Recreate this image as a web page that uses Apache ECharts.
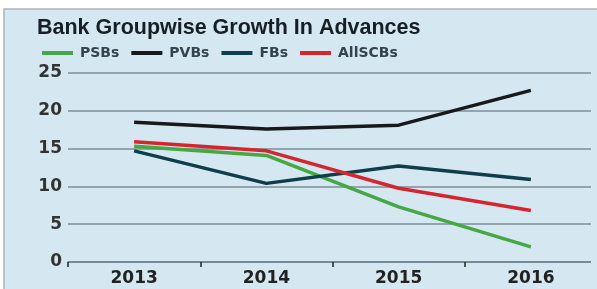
<!DOCTYPE html>
<html><head><meta charset="utf-8">
<script src="https://cdn.jsdelivr.net/npm/echarts@6/dist/echarts.min.js"></script>
<style>html,body{margin:0;padding:0;background:#fff}#c{width:597px;height:289px}</style>
</head><body><div id="c"></div>
<script>
const categories = ['2013', '2014', '2015', '2016'];
const psbs = [15.3, 14.1, 7.3, 2.0];
const pvbs = [18.5, 17.6, 18.1, 22.7];
const fbs = [14.7, 10.4, 12.7, 10.9];
const allscbs = [15.9, 14.7, 9.75, 6.8];
const yTicks = [0, 5, 10, 15, 20, 25];

const seriesDefs = [
  {name: 'PSBs', data: psbs, color: '#45a843'},
  {name: 'PVBs', data: pvbs, color: '#17191c'},
  {name: 'FBs', data: fbs, color: '#0f3e4b'},
  {name: 'AllSCBs', data: allscbs, color: '#d5252f'}
];
const panel = '#d5e7f1';
const chart = echarts.init(document.getElementById('c'));
chart.setOption({
  backgroundColor: '#ffffff',
  animation: false,
  graphic: [
    {type: 'rect', z: -10, shape: {x: 4, y: 9, width: 600, height: 290}, style: {fill: panel, stroke: '#a9b4bb', lineWidth: 1.5}},
    {type: 'rect', z: 100, shape: {x: 591, y: 10, width: 10, height: 290}, style: {fill: panel}}
  ],
  title: {
    text: 'Bank Groupwise Growth In Advances',
    left: 32, top: 12,
    textStyle: {fontFamily: 'Liberation Sans', fontWeight: 'bold', fontSize: 21.5, color: '#161f25'}
  },
  legend: {
    left: 37, top: 41,
    itemWidth: 31, itemHeight: 4, itemGap: 12,
    icon: 'rect',
    textStyle: {fontFamily: 'DejaVu Sans', fontWeight: 'bold', fontSize: 14, color: '#34434d', padding: [0, 0, 0, 2]},
    data: seriesDefs.map(s => s.name)
  },
  grid: {left: 68, right: -9, top: 73, height: 189, containLabel: false},
  xAxis: {
    type: 'category', data: categories, boundaryGap: true,
    axisLine: {lineStyle: {color: '#6f8190', width: 1.5}},
    axisTick: {show: true, length: 5, inside: false, lineStyle: {color: '#222', width: 1.5}},
    axisLabel: {margin: 8, fontFamily: 'DejaVu Sans', fontWeight: 'bold', fontSize: 17, color: '#222', offset: [-5,0]}
  },
  yAxis: {
    type: 'value', min: yTicks[0], max: yTicks[yTicks.length - 1], interval: 5,
    axisLine: {show: false}, axisTick: {show: false},
    axisLabel: {margin: 6, fontFamily: 'DejaVu Sans', fontWeight: 'bold', fontSize: 17, color: '#333'},
    splitLine: {lineStyle: {color: '#7d8e9b', width: 1.5}}
  },
  series: seriesDefs.map(s => ({
    name: s.name, type: 'line', data: s.data, symbol: 'none',
    lineStyle: {color: s.color, width: 3.5}, itemStyle: {color: s.color}
  }))
});
</script></body></html>
